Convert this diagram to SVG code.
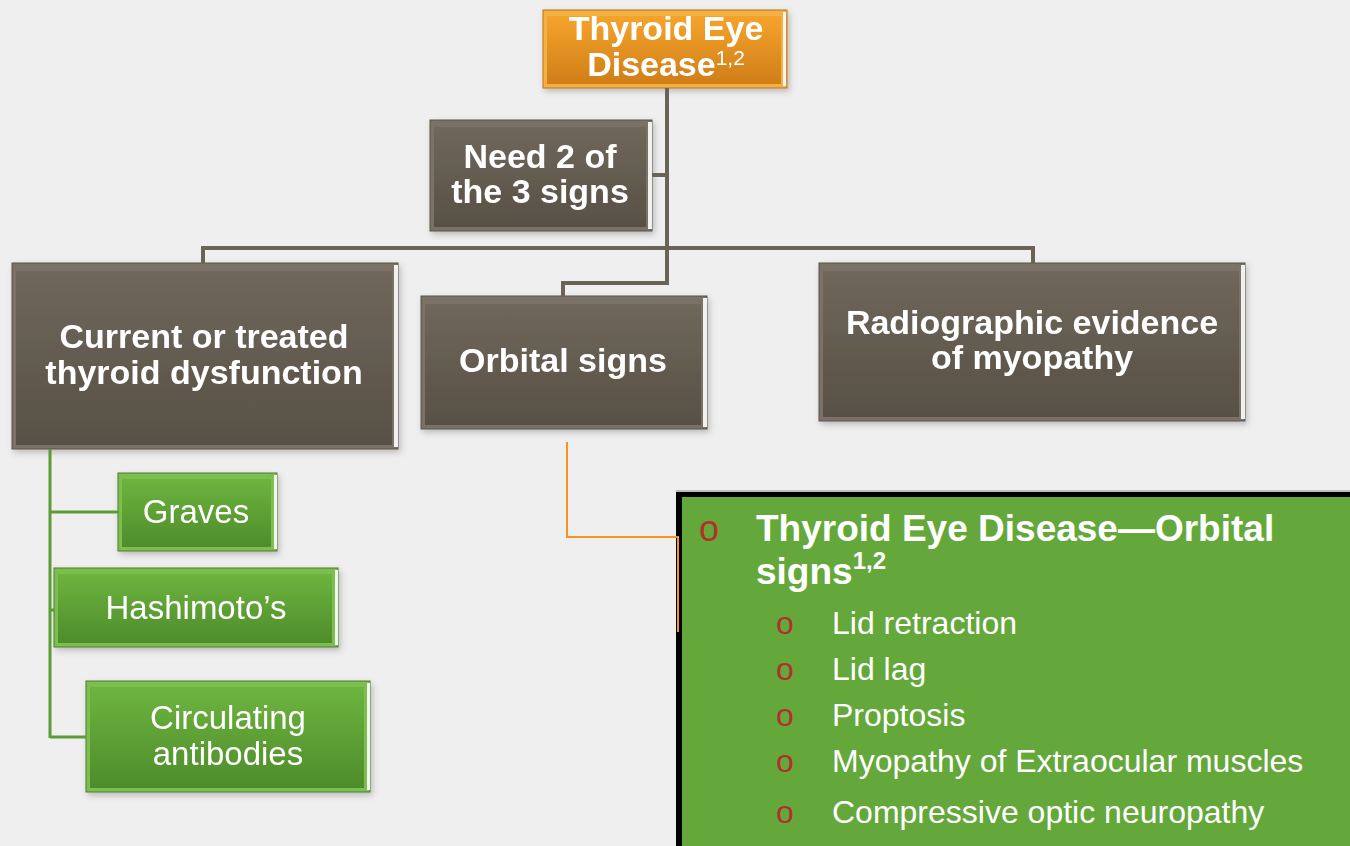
<svg xmlns="http://www.w3.org/2000/svg" width="1350" height="846" viewBox="0 0 1350 846">
<defs>
<linearGradient id="gBrown" x1="0" y1="0" x2="0" y2="1"><stop offset="0" stop-color="#6f675b"/><stop offset="1" stop-color="#585046"/></linearGradient>
<linearGradient id="gOrange" x1="0" y1="0" x2="0" y2="1"><stop offset="0" stop-color="#f4a42c"/><stop offset="1" stop-color="#d07e18"/></linearGradient>
<linearGradient id="gGreen" x1="0" y1="0" x2="0" y2="1"><stop offset="0" stop-color="#6db43f"/><stop offset="1" stop-color="#4e8c2b"/></linearGradient>
<filter id="sh" x="-10%" y="-10%" width="130%" height="130%"><feDropShadow dx="2" dy="3" stdDeviation="3" flood-color="#000" flood-opacity="0.22"/></filter>
<style>
text{font-family:"Liberation Sans",Arial,sans-serif;}
.lbl{fill:#fff;font-weight:bold;font-size:34px;text-anchor:middle;}
.glbl{fill:#fff;font-size:33px;text-anchor:middle;}
.bOut{fill:#7a7266;stroke:#5a5349;stroke-width:1;}
.bIn{fill:url(#gBrown);}
.oOut{fill:#f5b045;stroke:#b97419;stroke-width:1;}
.oIn{fill:url(#gOrange);}
.gOut{fill:#7cbf50;stroke:#4a7d2b;stroke-width:1;}
.gIn{fill:url(#gGreen);}
.top{fill:#fff;opacity:0.25;}
.hl{fill:#fff;opacity:0.9;}
.cb{fill:none;stroke:#6b6358;stroke-width:4;}
.cg{fill:none;stroke:#5b9c35;stroke-width:3;}
.co{fill:none;stroke:#f7941d;stroke-width:2;}
.bul{fill:#b3302a;}
.item{fill:#fff;font-size:32px;}
</style>
</defs>
<rect x="0" y="0" width="1350" height="846" fill="#efefef"/>

<g id="node-ted" filter="url(#sh)">
<rect class="oOut" x="543" y="10" width="244" height="78"/>
<rect class="oIn" x="547" y="16" width="234" height="68"/>
<rect class="hl" x="783" y="12" width="3" height="74"/>
<text class="lbl" x="666" y="40">Thyroid Eye</text>
<text class="lbl" x="666" y="76">Disease<tspan font-size="21" font-weight="normal" dy="-11">1,2</tspan></text>
</g>

<g id="node-need" filter="url(#sh)">
<rect class="bOut" x="430" y="120" width="222" height="111"/>
<rect class="bIn" x="434" y="127" width="212" height="100"/>
<rect class="hl" x="648" y="122" width="4" height="107"/>
<text class="lbl" x="540" y="168">Need 2 of</text>
<text class="lbl" x="540" y="203">the 3 signs</text>
</g>

<g id="node-thyroid" filter="url(#sh)">
<rect class="bOut" x="12" y="263" width="386" height="186"/>
<rect class="bIn" x="16" y="271" width="376" height="174"/>
<rect class="hl" x="394" y="265" width="4" height="182"/>
<text class="lbl" x="204" y="348">Current or treated</text>
<text class="lbl" x="204" y="384">thyroid dysfunction</text>
</g>

<g id="node-orbital" filter="url(#sh)">
<rect class="bOut" x="421" y="296" width="286" height="133"/>
<rect class="bIn" x="425" y="304" width="276" height="121"/>
<rect class="hl" x="703" y="298" width="4" height="129"/>
<text class="lbl" x="563" y="372">Orbital signs</text>
</g>

<g id="node-radio" filter="url(#sh)">
<rect class="bOut" x="819" y="263" width="426" height="158"/>
<rect class="bIn" x="823" y="271" width="416" height="146"/>
<rect class="hl" x="1241" y="265" width="4" height="154"/>
<text class="lbl" x="1032" y="334">Radiographic evidence</text>
<text class="lbl" x="1032" y="369">of myopathy</text>
</g>

<g id="node-graves" filter="url(#sh)">
<rect class="gOut" x="118" y="473" width="159" height="78"/>
<rect class="gIn" x="122" y="479" width="149" height="68"/>
<rect class="hl" x="274" y="475" width="3" height="74"/>
<text class="glbl" x="196" y="523">Graves</text>
</g>

<g id="node-hashimoto" filter="url(#sh)">
<rect class="gOut" x="54" y="568" width="284" height="79"/>
<rect class="gIn" x="58" y="574" width="274" height="69"/>
<rect class="hl" x="335" y="570" width="3" height="75"/>
<text class="glbl" x="196" y="619">Hashimoto’s</text>
</g>

<g id="node-circulating" filter="url(#sh)">
<rect class="gOut" x="86" y="681" width="284" height="111"/>
<rect class="gIn" x="90" y="687" width="274" height="101"/>
<rect class="hl" x="367" y="683" width="3" height="107"/>
<text class="glbl" x="228" y="729">Circulating</text>
<text class="glbl" x="228" y="765">antibodies</text>
</g>

<g id="node-orbital-signs">
<rect x="676" y="491" width="680" height="360" fill="#000"/>
<rect x="676" y="490" width="680" height="2" fill="#bdbdbd"/>
<rect x="682" y="497" width="674" height="355" fill="#64a83b"/>
<text class="bul" x="699" y="541" font-size="36">o</text>
<text x="756" y="541" fill="#fff" font-weight="bold" font-size="37">Thyroid Eye Disease—Orbital</text>
<text x="756" y="584" fill="#fff" font-weight="bold" font-size="37">signs<tspan font-size="24" dy="-15">1,2</tspan></text>
<text class="bul" x="776" y="634" font-size="32">o</text>
<text class="item" x="832" y="634">Lid retraction</text>
<text class="bul" x="776" y="680" font-size="32">o</text>
<text class="item" x="832" y="680">Lid lag</text>
<text class="bul" x="776" y="726" font-size="32">o</text>
<text class="item" x="832" y="726">Proptosis</text>
<text class="bul" x="776" y="772" font-size="32">o</text>
<text class="item" x="832" y="772">Myopathy of Extraocular muscles</text>
<text class="bul" x="776" y="823" font-size="32">o</text>
<text class="item" x="832" y="823">Compressive optic neuropathy</text>
</g>

<g id="connectors">
<path class="cb" d="M667 88 V283 H563 V296"/>
<path class="cb" d="M652 175 H667"/>
<path class="cb" d="M203 263 V248 H1033 V263"/>
<path class="cg" d="M50 449 V738 M50 512 H118 M50 610 H54 M50 737 H86"/>
<path class="co" d="M567 442 V537 H678 V632"/>
</g>
</svg>
